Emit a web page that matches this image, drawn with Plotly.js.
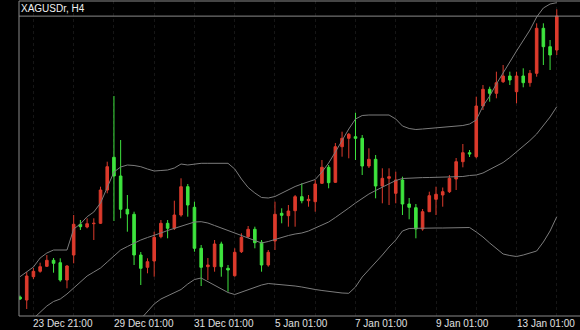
<!DOCTYPE html>
<html>
<head>
<meta charset="utf-8">
<script src="https://cdn.plot.ly/plotly-3.0.1.min.js"></script>
<style>
  html, body { margin: 0; padding: 0; background: #000; }
  #chart { width: 580px; height: 330px; }
</style>
</head>
<body>
<div id="chart"></div>
<script>
// Bar index (H4 bars, XAGUSDr)
const barIndex = Array.from({length: 81}, (_, i) => i);

const openP = [70.3,70.0,72.33,72.87,73.37,73.97,73.73,72.0,74.5,77.57,
  77.3,77.63,77.67,81.0,84.27,82.4,79.07,78.57,74.5,73.27,
  73.9,76.33,77.67,77.17,78.5,81.33,79.27,75.17,73.33,73.33,
  75.6,73.17,72.43,74.83,76.33,77.07,75.77,73.5,75.9,78.67,
  78.43,78.93,80.33,79.93,79.83,81.67,83.27,81.77,85.33,86.17,
  86.33,86.17,83.4,84.07,81.4,82.17,80.67,82.0,79.6,79.23,
  77.1,78.83,80.07,80.5,80.83,82.1,83.83,84.73,84.33,89.4,
  91.07,90.67,91.83,92.4,90.83,92.4,91.73,92.67,97.17,95.33,95.0];
const highP = [70.45,72.8,73.2,73.73,74.5,74.2,74.17,73.5,78.5,78.0,
  78.17,78.17,81.33,83.83,90.4,86.0,80.5,78.83,74.8,74.17,
  76.83,78.0,78.0,79.93,82.17,81.6,79.83,75.5,74.2,76.0,
  75.83,73.5,75.17,76.67,77.4,77.33,76.0,75.0,79.83,79.17,
  79.5,80.5,81.67,80.5,82.0,84.0,83.5,85.7,86.83,86.7,
  88.73,86.5,85.17,84.5,83.17,83.17,82.83,82.33,80.2,79.6,
  79.1,80.83,81.33,81.25,82.5,84.2,85.6,85.0,90.33,91.5,
  91.33,92.83,93.5,92.83,92.83,93.17,93.0,97.67,97.67,96.0,99.07];
const lowP = [70.0,69.1,72.1,72.73,73.3,72.73,71.83,71.17,73.67,77.0,
  77.17,76.0,77.6,80.67,77.9,78.17,76.83,73.5,71.5,72.67,
  72.33,76.17,76.17,77.0,78.33,78.33,74.83,71.4,72.0,72.83,
  72.33,70.83,72.33,74.7,76.2,75.17,72.83,73.33,75.0,77.67,
  77.33,77.33,79.67,79.33,78.83,81.6,81.17,81.7,84.33,84.17,
  84.0,82.5,83.2,80.17,79.67,79.5,79.67,78.5,78.07,76.17,
  76.93,78.8,78.5,79.33,80.7,81.0,83.27,84.3,84.17,89.0,
  89.83,90.17,91.7,91.5,89.67,91.27,91.33,92.33,93.5,93.0,94.5];
const closeP = [70.1,72.4,72.87,73.33,73.97,73.67,72.0,73.4,77.57,77.33,
  77.63,77.67,81.0,83.33,82.4,79.07,78.6,74.5,73.17,73.83,
  76.27,77.67,77.17,78.5,81.33,79.5,75.17,73.27,73.5,75.6,
  73.33,73.0,74.77,76.27,77.07,75.73,73.5,74.77,78.57,78.47,
  78.9,80.33,79.93,80.07,81.6,83.27,81.73,85.33,86.17,86.57,
  86.17,83.4,84.07,81.4,82.17,82.33,82.0,79.6,79.27,77.1,
  78.83,80.43,80.57,80.83,82.17,83.83,84.73,84.6,89.4,91.07,
  90.67,91.73,92.4,92.0,92.4,91.73,92.67,97.17,95.33,94.5,98.4];

// Bollinger Bands (20, 2)
const bbUpper = [72.33,72.8,73.3,74.2,74.7,75.0,75.0,75.0,77.1,77.6,
  78.33,78.8,79.7,81.33,82.8,83.3,83.5,83.45,83.33,83.1,
  82.9,82.95,83.0,83.2,83.6,83.5,83.6,83.67,83.67,83.67,
  83.67,83.67,83.1,82.1,81.25,80.7,80.25,80.2,80.35,80.7,
  81.0,81.35,81.6,81.85,82.05,82.8,83.7,84.8,86.0,87.1,
  88.1,88.45,88.5,88.5,88.5,88.5,88.1,87.4,87.15,87.05,
  87.1,87.15,87.2,87.25,87.3,87.35,87.45,87.6,88.0,89.4,
  90.4,91.6,92.75,93.8,94.9,96.0,97.0,98.3,99.2,99.6,99.73];
const bbMiddle = [null,null,68.15,68.8,69.4,69.85,70.1,70.6,71.2,71.9,
  72.4,72.8,73.2,73.8,74.4,75.0,75.35,75.7,76.0,76.25,
  76.45,76.7,76.95,77.15,77.35,77.6,77.8,77.83,77.7,77.45,
  77.2,76.95,76.75,76.5,76.2,75.95,75.7,75.85,76.05,76.3,
  76.45,76.6,76.7,76.9,77.2,77.5,77.8,78.25,78.7,79.2,
  79.7,80.15,80.6,80.95,81.3,81.65,81.95,82.15,82.2,82.22,
  82.24,82.25,82.27,82.3,82.3,82.32,82.35,82.45,82.5,82.7,
  83.05,83.4,83.75,84.25,84.8,85.33,85.95,86.6,87.4,88.3,89.33];
const bbLower = [null,null,null,null,null,null,null,null,null,null,
  null,null,null,null,null,null,null,null,68.1,68.9,
  69.6,70.1,70.4,70.75,71.05,71.6,72.05,72.2,71.85,71.45,
  71.1,70.75,70.55,70.8,71.05,71.3,71.5,71.65,71.6,71.55,
  71.5,71.4,71.3,71.15,71.05,70.95,70.85,70.75,70.7,70.67,
  71.3,72.3,73.0,73.7,74.5,75.3,76.0,76.9,77.15,77.17,
  77.2,77.2,77.2,77.2,77.2,77.2,77.2,77.25,76.8,76.3,
  75.7,75.1,74.6,74.45,74.35,74.5,74.7,74.9,75.8,76.9,78.33];

// Time-scale labels and the bars they belong to
const timeLabels = ["23 Dec 21:00","29 Dec 01:00","31 Dec 01:00","5 Jan 01:00","7 Jan 01:00","9 Jan 01:00","13 Jan 01:00"];
const timeLabelBars = [2,14,26,38,50,62,74];

const RED = '#dc3a2c';
const GREEN = '#3ee43e';
const BAND = '#7c7c7c';
const FRAME = '#8a8a8a';
const FONT = '"Liberation Sans", Arial, sans-serif';

const bandTrace = (y) => ({
  type: 'scatter', mode: 'lines', x: barIndex, y: y,
  line: {color: BAND, width: 1}, hoverinfo: 'skip', showlegend: false,
  connectgaps: false
});

const data = [
  bandTrace(bbUpper), bandTrace(bbMiddle), bandTrace(bbLower),
  {
    type: 'candlestick', x: barIndex,
    open: openP, high: highP, low: lowP, close: closeP,
    increasing: {line: {color: RED, width: 1}, fillcolor: RED},
    decreasing: {line: {color: GREEN, width: 1}, fillcolor: GREEN},
    whiskerwidth: 0, hoverinfo: 'none', showlegend: false
  }
];

const annotations = timeLabels.map((t, k) => ({
  x: timeLabelBars[k], xref: 'x', y: 0, yref: 'paper',
  xanchor: 'left', yanchor: 'top', showarrow: false,
  text: t, xshift: -2, yshift: 0,
  font: {family: FONT, size: 10, color: '#e0e0e0'}
}));
annotations.push({
  x: 0, xref: 'paper', y: 1, yref: 'paper', xanchor: 'left', yanchor: 'top',
  showarrow: false, text: 'XAGUSDr, H4', xshift: 0, yshift: 0,
  font: {family: FONT, size: 10, color: '#f0f0f0'}
});

const layout = {
  width: 580, height: 330,
  margin: {l: 19, r: 0, t: 1, b: 14, pad: 0},
  paper_bgcolor: '#000', plot_bgcolor: '#000',
  showlegend: false,
  boxgap: 0.45,
  xaxis: {
    range: [-0.15, 83.46], fixedrange: true,
    rangeslider: {visible: false},
    showticklabels: false, ticks: '', zeroline: false, showline: false,
    showgrid: true, tick0: 2, dtick: 6, gridcolor: '#161616', griddash: 'dot', gridwidth: 1
  },
  yaxis: {
    range: [68.4, 99.9], fixedrange: true,
    showticklabels: false, ticks: '', zeroline: false, showline: false, showgrid: false
  },
  shapes: [
    {type: 'line', xref: 'paper', yref: 'paper', x0: 0, x1: 0, y0: 0, y1: 1, line: {color: FRAME, width: 1}},
    {type: 'line', xref: 'paper', yref: 'paper', x0: 0, x1: 1, y0: 1, y1: 1, line: {color: FRAME, width: 1}},
    {type: 'line', xref: 'paper', yref: 'paper', x0: 0, x1: 1, y0: 0, y1: 0, line: {color: FRAME, width: 1}},
    {type: 'line', xref: 'paper', yref: 'paper', x0: 0, x1: 1, y0: 0.952, y1: 0.952, line: {color: FRAME, width: 1}}
  ],
  annotations: annotations
};

Plotly.newPlot('chart', data, layout, {displayModeBar: false, staticPlot: true});
</script>
</body>
</html>
